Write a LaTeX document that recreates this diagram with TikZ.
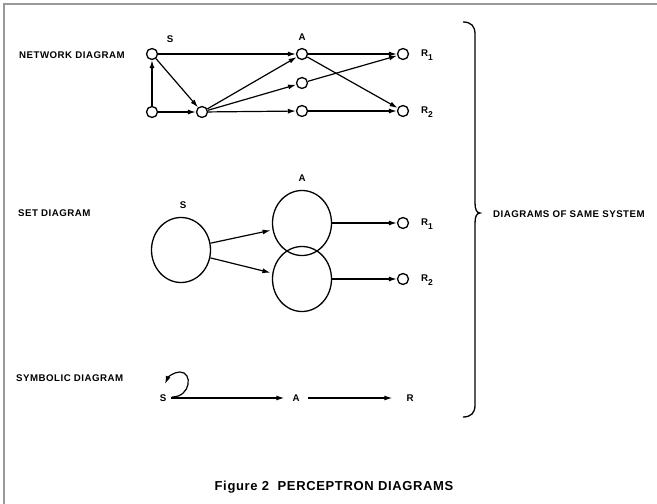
\documentclass[tikz,border=0pt]{standalone}
\usepackage{fontspec}
\setmainfont{Liberation Sans}[BoldFont=Liberation Sans Bold,LetterSpace=5]
\usetikzlibrary{arrows.meta,shapes.geometric}
\newcommand{\subnum}[1]{\raisebox{-3.5bp}{\fontsize{8.5bp}{9bp}\selectfont #1}}
\begin{document}
\begin{tikzpicture}[x=1bp,y=-1bp,
  lbl/.style={inner sep=0pt,font=\fontsize{9.7bp}{11bp}\selectfont\bfseries},
  dot/.style={circle,draw,line width=1.3bp,minimum size=11bp,inner sep=0pt},
  blob/.style={ellipse,draw,line width=1.3bp,minimum width=59bp,minimum height=65bp,inner sep=0pt},
  arr/.style={line width=1.2bp,-{Latex[length=8bp,width=5bp]}},
  frame/.style={draw=gray!80,line width=2bp}
]
\useasboundingbox (0,0) rectangle (657,504);
\fill[white] (0,0) rectangle (657,504);
\draw[frame] (4,504) -- (4,4) -- (657,4);

% ---------- Network diagram ----------
\node[lbl,anchor=west] (lnet) at (19,55) {NETWORK DIAGRAM};
\node[dot] (ns)  at (152,54) {};
\node[dot] (nb)  at (152,112) {};
\node[dot] (nm)  at (202,112) {};
\node[dot] (na1) at (302,54) {};
\node[dot] (na2) at (302,83) {};
\node[dot] (na3) at (302,111) {};
\node[dot] (nr1) at (403,54) {};
\node[dot] (nr2) at (403,111) {};
\node[lbl] (nsl) at (170,39) {S};
\node[lbl] (nal) at (302,37) {A};
\node[lbl,anchor=west] (nr1l) at (421,55) {R\subnum{1}};
\node[lbl,anchor=west] (nr2l) at (421,112) {R\subnum{2}};
\draw[arr] (nb) -- (ns);
\draw[arr] (nb) -- (nm);
\draw[arr] (ns) -- (nm);
\draw[arr] (ns) -- (na1);
\draw[arr] (nm) -- (na1);
\draw[arr] (nm) -- (na2);
\draw[arr] (nm) -- (na3);
\draw[arr] (na1) -- (nr1);
\draw[arr] (na2) -- (nr1);
\draw[arr] (na1) -- (nr2);
\draw[arr] (na3) -- (nr2);

% ---------- Set diagram ----------
\node[lbl,anchor=west] (lset) at (18,213) {SET DIAGRAM};
\node[blob] (ss) at (181,250) {};
\node[blob] (sa1) at (302,223) {};
\node[blob] (sa2) at (302,279) {};
\node[dot] (sr1) at (403,223) {};
\node[dot] (sr2) at (403,279) {};
\node[lbl] (ssl) at (183,205) {S};
\node[lbl] (sal) at (302,178) {A};
\node[lbl,anchor=west] (sr1l) at (421,224) {R\subnum{1}};
\node[lbl,anchor=west] (sr2l) at (421,280) {R\subnum{2}};
\draw[arr] (ss.13) -- ([xshift=-2bp]sa1.194);
\draw[arr] (ss.345) -- ([xshift=-2bp]sa2.168);
\draw[arr] (sa1.east) -- (sr1);
\draw[arr] (sa2.east) -- (sr2);

% ---------- Symbolic diagram ----------
\node[lbl,anchor=west] (lsym) at (16,378) {SYMBOLIC DIAGRAM};
\node[lbl] (ys) at (163,398) {S};
\node[lbl] (ya) at (296,398) {A};
\node[lbl] (yr) at (410,398) {R};
\coordinate (yloop) at (165,384);
\coordinate (ystart) at (172,397);
\draw[arr,shorten <=5bp,shorten >=8bp] (ys) -- (ya);
\draw[arr,shorten <=8bp,shorten >=14bp] (ya) -- (yr);
\draw[arr] (ystart) .. controls (191,397) and (193,372) .. (180,372)
                     .. controls (174,372) and (168,377) .. (yloop);

% ---------- Brace ----------
\draw[line width=1.3bp] (463,22) .. controls (471,22) and (475,26) .. (475,34)
  -- (475,203) .. controls (475,210) and (477,213) .. (480,213)
  .. controls (477,213) and (475,216) .. (475,223)
  -- (475,405) .. controls (475,413) and (471,417) .. (463,417);
\node[lbl,anchor=west] (lsame) at (493,214) {DIAGRAMS OF SAME SYSTEM};

% ---------- Title ----------
\node[inner sep=0pt,font=\fontsize{13bp}{15bp}\selectfont\bfseries] (title) at (334,487) {Figure 2\ \ PERCEPTRON DIAGRAMS};
\end{tikzpicture}
\end{document}
